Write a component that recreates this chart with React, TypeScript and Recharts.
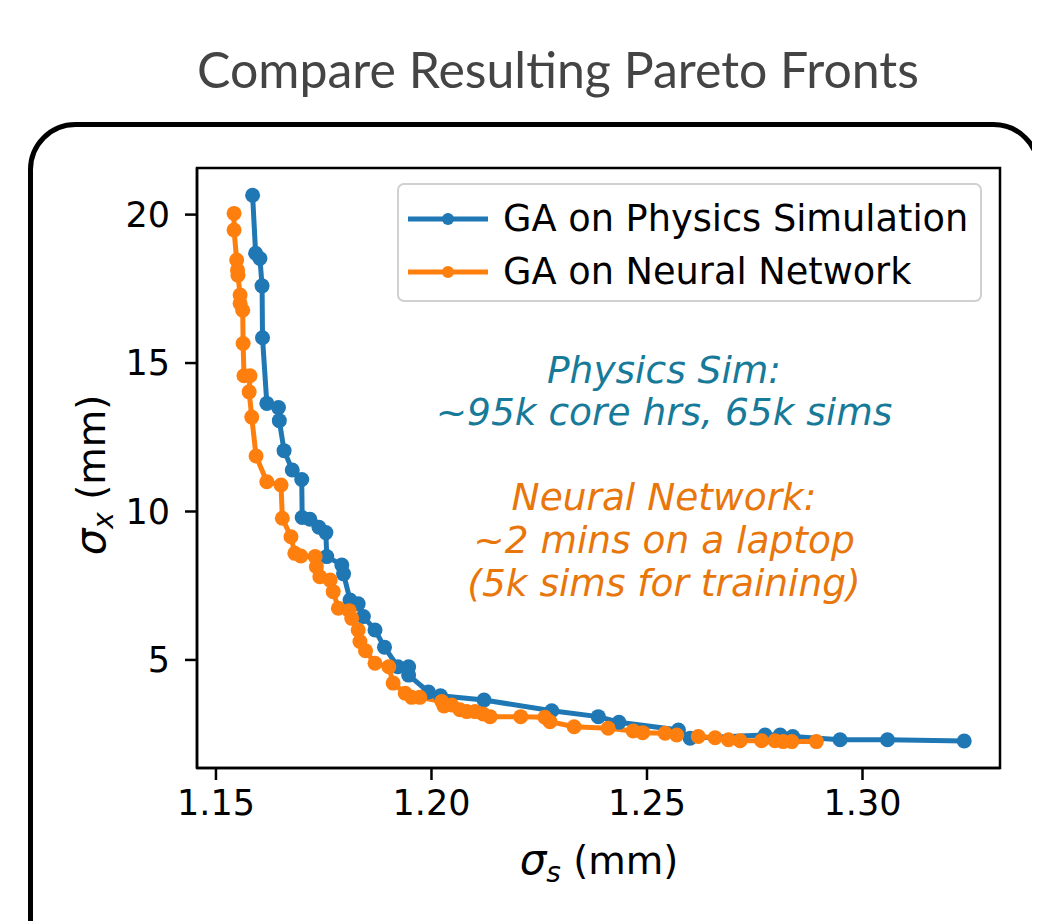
import React from 'react';
import { LineChart, Line, XAxis, YAxis, ReferenceArea } from 'recharts';

const physicsSigmaS = [
  1.1585, 1.1592, 1.1602, 1.1607, 1.1608, 1.1618, 1.1645, 1.1647, 1.1658, 1.1677,
  1.1699, 1.17, 1.1718, 1.1739, 1.1755, 1.1757, 1.1792, 1.1796, 1.1811, 1.183,
  1.1842, 1.1869, 1.1891, 1.1922, 1.1947, 1.1947, 1.1993, 1.2021, 1.2122, 1.2279,
  1.2387, 1.2435, 1.2573, 1.26, 1.2774, 1.2809, 1.2838, 1.2948, 1.3058, 1.3236,
];
const physicsSigmaX = [
  20.65, 18.7, 18.52, 17.6, 15.85, 13.64, 13.5, 13.06, 12.05, 11.4,
  11.08, 9.8, 9.74, 9.47, 9.29, 8.48, 8.2, 7.9, 7.02, 6.89,
  6.46, 6.01, 5.43, 4.77, 4.77, 4.49, 3.92, 3.79, 3.65, 3.29,
  3.09, 2.9, 2.64, 2.36, 2.47, 2.47, 2.42, 2.31, 2.31, 2.27,
];

const neuralSigmaS = [
  1.1542, 1.1542, 1.1548, 1.155, 1.1551, 1.1556, 1.1556, 1.1562, 1.1563, 1.1565,
  1.1579, 1.1577, 1.1583, 1.1593, 1.1618, 1.1651, 1.1654, 1.1674, 1.1683, 1.1697,
  1.173, 1.1733, 1.1741, 1.1765, 1.1772, 1.1784, 1.1809, 1.1815, 1.183, 1.1834,
  1.1847, 1.1869, 1.1901, 1.1911, 1.1939, 1.1954, 1.1973, 1.2024, 1.2029, 1.2047,
  1.2066, 1.2082, 1.2101, 1.212, 1.2136, 1.2207, 1.2263, 1.2275, 1.2331, 1.241,
  1.2468, 1.249, 1.2542, 1.2569, 1.2619, 1.2658, 1.2689, 1.2716, 1.2766, 1.2797,
  1.2816, 1.2836, 1.2893,
];
const neuralSigmaX = [
  20.04, 19.48, 18.47, 18.13, 17.96, 17.29, 17.01, 16.78, 15.66, 14.57,
  14.57, 14.03, 13.18, 11.87, 11.0, 10.89, 9.77, 9.15, 8.59, 8.5,
  8.48, 8.14, 7.8, 7.69, 7.3, 6.74, 6.66, 6.4, 6.01, 5.62,
  5.31, 4.89, 4.77, 4.22, 3.88, 3.74, 3.74, 3.6, 3.45, 3.48,
  3.32, 3.26, 3.26, 3.18, 3.09, 3.09, 3.07, 2.92, 2.75, 2.7,
  2.61, 2.55, 2.53, 2.47, 2.42, 2.38, 2.31, 2.28, 2.28, 2.28,
  2.25, 2.25, 2.25,
];

const xTicks = [1.15, 1.2, 1.25, 1.3];
const yTicks = [5, 10, 15, 20];

const seriesNames = ['GA on Physics Simulation', 'GA on Neural Network'];

const BLUE = '#1f77b4';
const ORANGE = '#ff7f0e';
const FONT = '"DejaVu Sans", sans-serif';

const toPoints = (xs: number[], ys: number[]) => xs.map((x, i) => ({ x, y: ys[i] }));
const physicsData = toPoints(physicsSigmaS, physicsSigmaX);
const neuralData = toPoints(neuralSigmaS, neuralSigmaX);

const X_DOMAIN: [number, number] = [1.1456, 1.3319];
const Y_DOMAIN: [number, number] = [1.36, 21.57];

// matplotlib-style legend box, placed over the upper right of the axes
const LegendBox = () => (
  <div
    style={{
      position: 'absolute',
      left: 389,
      top: 175,
      width: 585,
      height: 119,
      boxSizing: 'border-box',
      border: '2.5px solid #d0d0d0',
      borderRadius: 7,
      background: 'rgba(255,255,255,0.8)',
      fontFamily: FONT,
      fontSize: 36.7,
      color: '#000',
    }}
  >
    {seriesNames.map((name, i) => {
      const color = i === 0 ? BLUE : ORANGE;
      const cy = i === 0 ? 34 : 87;
      return (
        <div key={name} style={{ position: 'absolute', left: 0, top: cy - 22, height: 44, width: '100%' }}>
          <svg width={100} height={44} style={{ position: 'absolute', left: 0, top: 0 }}>
            <line x1={9} x2={89} y1={22} y2={22} stroke={color} strokeWidth={5} />
            <circle cx={49} cy={22} r={6} fill={color} />
          </svg>
          <span style={{ position: 'absolute', left: 104, top: 0, lineHeight: '44px', whiteSpace: 'nowrap' }}>
            {name}
          </span>
        </div>
      );
    })}
  </div>
);

export default function App() {
  return (
    <div style={{ position: 'relative', width: 1024, height: 913, overflow: 'hidden', background: '#fff' }}>
      <svg width={1024} height={913} style={{ position: 'absolute', left: 0, top: 0 }}>
        <text x={550} y={80} textAnchor="middle" fontFamily="Lato, sans-serif" fontSize={50} fill="#444">
          Compare Resulting Pareto Fronts
        </text>
        <rect x={22.5} y={116.5} width={1008} height={900} rx={45} ry={45} fill="none" stroke="#000" strokeWidth={5} />
      </svg>

      <div style={{ position: 'absolute', left: 0, top: 0 }}>
        <LineChart width={1024} height={905} margin={{ top: 160, right: 32, bottom: 85, left: 129 }}>
          <XAxis
            type="number"
            dataKey="x"
            domain={X_DOMAIN}
            ticks={xTicks}
            allowDataOverflow
            tickFormatter={(v: number) => v.toFixed(2)}
            height={60}
            tickSize={12}
            tickMargin={10}
            stroke="#000"
            strokeWidth={2.5}
            tick={{ fill: '#000', fontSize: 35, fontFamily: FONT }}
          />
          <YAxis
            type="number"
            dataKey="y"
            domain={Y_DOMAIN}
            ticks={yTicks}
            allowDataOverflow
            width={60}
            tickSize={12}
            tickMargin={15}
            stroke="#000"
            strokeWidth={2.5}
            tick={{ fill: '#000', fontSize: 35, fontFamily: FONT }}
          />
          <ReferenceArea
            x1={X_DOMAIN[0]}
            x2={X_DOMAIN[1]}
            y1={Y_DOMAIN[0]}
            y2={Y_DOMAIN[1]}
            fill="none"
            stroke="#000"
            strokeWidth={2.5}
          />
          <Line
            data={physicsData}
            dataKey="y"
            name={seriesNames[0]}
            stroke={BLUE}
            strokeWidth={5}
            dot={{ r: 7.5, fill: BLUE, stroke: BLUE, strokeWidth: 0 }}
            activeDot={false}
            isAnimationActive={false}
          />
          <Line
            data={neuralData}
            dataKey="y"
            name={seriesNames[1]}
            stroke={ORANGE}
            strokeWidth={5}
            dot={{ r: 7.5, fill: ORANGE, stroke: ORANGE, strokeWidth: 0 }}
            activeDot={false}
            isAnimationActive={false}
          />
        </LineChart>
      </div>

      <LegendBox />

      <svg width={1024} height={913} style={{ position: 'absolute', left: 0, top: 0, pointerEvents: 'none' }}>
        <g fontFamily={FONT} fontSize={37.5} fontStyle="italic" textAnchor="middle">
          <text x={656} y={375} fill="#177a99">Physics Sim:</text>
          <text x={656} y={417} fill="#177a99">~95k core hrs, 65k sims</text>
          <text x={656} y={502} fill="#e8760a">Neural Network:</text>
          <text x={656} y={545} fill="#e8760a">~2 mins on a laptop</text>
          <text x={656} y={588} fill="#e8760a">(5k sims for training)</text>
        </g>
        <text x={591} y={866} textAnchor="middle" fontFamily={FONT} fontSize={38.5} fill="#000">
          <tspan fontStyle="italic" fontSize={42}>σ</tspan>
          <tspan fontStyle="italic" fontSize={28} dy={8}>s</tspan>
          <tspan dy={-8}> (mm)</tspan>
        </text>
        <text
          transform="translate(97, 467) rotate(-90)"
          textAnchor="middle"
          fontFamily={FONT}
          fontSize={38.5}
          fill="#000"
        >
          <tspan fontStyle="italic" fontSize={42}>σ</tspan>
          <tspan fontStyle="italic" fontSize={28} dy={8}>x</tspan>
          <tspan dy={-8}> (mm)</tspan>
        </text>
      </svg>
    </div>
  );
}
